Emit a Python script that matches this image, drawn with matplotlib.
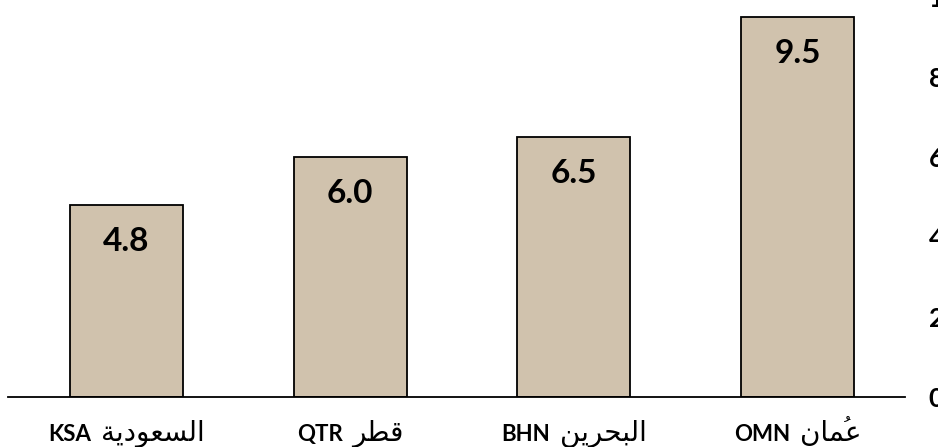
import matplotlib
matplotlib.use("Agg")
import matplotlib.pyplot as plt

# données
codes = ["KSA", "QTR", "BHN", "OMN"]
# noms arabes déjà mis en formes de présentation, ordre visuel (matplotlib ne fait pas le shaping)
noms_ar = [
    "\ufe94\ufef3\ufea9\ufeee\ufecc\ufeb4\ufedf\ufe8d",   # السعودية
    "\ufeae\ufec4\ufed7",                                 # قطر
    "\ufee6\ufef3\ufeae\ufea4\ufe92\ufedf\ufe8d",         # البحرين
    "\ufee5\ufe8e\ufee4\ufecb",                           # عمان (la damma est posée à part)
]
dammas = [False, False, False, True]
valeurs = [4.8, 6.0, 6.5, 9.5]
yticks = [0, 2, 4, 6, 8, 10]

W, H = 938, 447
fig = plt.figure(figsize=(W / 100, H / 100), dpi=100)
ax = fig.add_axes([8 / W, 50 / H, (905 - 8) / W, (H - 50 + 3) / H])

x = list(range(len(codes)))
ax.bar(x, valeurs, width=0.505, color="#D0C2AD", edgecolor="black", linewidth=1.3, zorder=2)
ax.set_xlim(-0.53, 3.48)
ax.set_ylim(0, 10)

for xi, v in zip(x, valeurs):
    ax.annotate(f"{v:.1f}", (xi, v), xytext=(0, -26), textcoords="offset points",
                ha="center", va="center", fontsize=24, fontweight="bold", family="Lato")

ax.yaxis.tick_right()
ax.set_yticks(yticks)
ax.set_yticklabels([str(t) for t in yticks], fontsize=19, fontweight="bold", family="Lato")
ax.tick_params(axis="y", length=0, pad=17)
ax.set_xticks([])
for s in ["top", "left", "right"]:
    ax.spines[s].set_visible(False)
ax.spines["bottom"].set_linewidth(1.3)

# étiquettes : code en gras + nom arabe, centrés sous chaque barre
fig.canvas.draw()
r = fig.canvas.get_renderer()
y_base = 6 / H
ecart = 10
for xi, code, nom, dm in zip(x, codes, noms_ar, dammas):
    t1 = fig.text(0, y_base, code, fontsize=16, fontweight="bold", family="Lato", va="baseline")
    t2 = fig.text(0, y_base, nom, fontsize=20, family="DejaVu Sans", va="baseline")
    w1 = t1.get_window_extent(r).width
    w2 = t2.get_window_extent(r).width
    cx = ax.transData.transform((xi, 0))[0]
    gauche = cx - (w1 + ecart + w2) / 2
    t1.set_x(gauche / W)
    t2.set_x((gauche + w1 + ecart) / W)
    if dm:
        # damma en forme isolée (avec chasse) posée au-dessus du ع
        fin = gauche + w1 + ecart + w2
        fig.text((fin - 14) / W, 12 / H, "\ufe78", fontsize=16, family="DejaVu Sans",
                 ha="center", va="baseline")

fig.savefig("out.png", dpi=100)
